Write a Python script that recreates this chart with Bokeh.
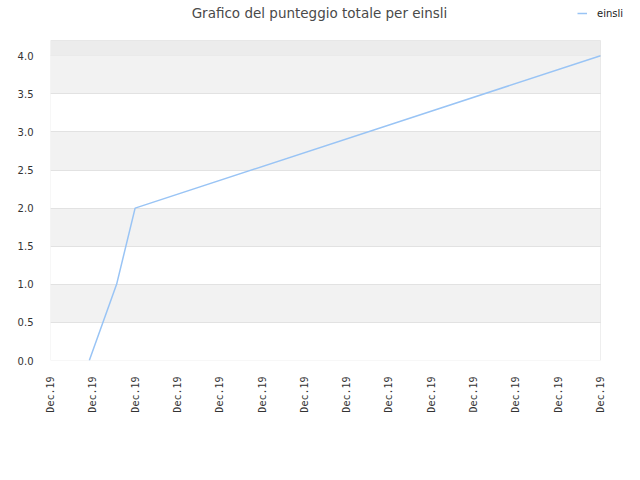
import math
from datetime import datetime
from bokeh.plotting import figure
from bokeh.models import (FixedTicker, DatetimeTickFormatter, Range1d, BoxAnnotation,
                          Legend, LegendItem, PrintfTickFormatter, ColumnDataSource,
                          Label, Grid)
from bokeh.embed import file_html
from bokeh.resources import INLINE

title_text = "Grafico del punteggio totale per einsli"
series_name = "einsli"
dates = [datetime(2019, 12, 2, 20, 0), datetime(2019, 12, 4, 3, 0),
         datetime(2019, 12, 5, 0, 0), datetime(2019, 12, 27, 0, 0)]
scores = [0, 1, 2, 4]
tick_dates = [datetime(2019, 12, 1 + 2 * i) for i in range(14)]
y_ticks = [0.0, 0.5, 1.0, 1.5, 2.0, 2.5, 3.0, 3.5, 4.0]
y_max = 4.2

epoch = datetime(1970, 1, 1)
def ms(d):
    return (d - epoch).total_seconds() * 1000.0

# layout (pixels): plot box spans x 50..600, y 40..360 inside a 624x464 figure;
# the frame is extended to the figure's top and right edge so the title and
# legend can sit inside it.
W, H = 624, 464
box_l, box_r, box_t, box_b = 50, 600, 40, 360
x0, x1 = ms(tick_dates[0]), ms(tick_dates[-1])
x_end = x0 + (x1 - x0) * (W - box_l) / (box_r - box_l)
y_end = y_max * box_b / (box_b - box_t)

p = figure(width=W, height=H, output_backend="svg", toolbar_location=None,
           title=None, x_axis_type="datetime",
           x_range=Range1d(x0, x_end), y_range=Range1d(0, y_end),
           min_border_left=box_l, min_border_right=0, min_border_top=0,
           min_border_bottom=H - box_b)

p.background_fill_color = "white"
p.border_fill_color = "white"
p.outline_line_color = None

p.xgrid.grid_line_color = None
grid = p.ygrid[0]
if "cross_bounds" in Grid.properties():
    grid.cross_bounds = (x0, x1)
    grid.grid_line_color = "#e2e2e2"
    grid.band_fill_color = "#f2f2f2"
    grid.band_fill_alpha = 1.0
else:
    grid.visible = False
    for i in range(len(y_ticks) - 1):
        if i % 2 == 1:
            p.add_layout(BoxAnnotation(left=x0, right=x1, bottom=y_ticks[i],
                                       top=y_ticks[i + 1], fill_color="#f2f2f2",
                                       fill_alpha=1, line_color=None, level="underlay"))
    for t in y_ticks[1:]:
        p.add_layout(BoxAnnotation(left=x0, right=x1, bottom=t, top=t,
                                   fill_alpha=0, line_color="#e2e2e2",
                                   level="underlay"))

p.add_layout(BoxAnnotation(left=x0, right=x1, bottom=y_ticks[-1], top=y_max,
                           fill_color="#ececec", fill_alpha=1, line_color=None,
                           level="underlay"))

src = ColumnDataSource(data=dict(x=dates, y=scores))
r = p.line("x", "y", source=src, line_color="#99c4f5", line_width=1.5)

# plot-area border
p.add_layout(BoxAnnotation(left=x0, right=x1, bottom=0, top=y_max,
                           fill_alpha=0, line_color="#c8c8c8", line_width=1,
                           level="annotation"))

p.xaxis.ticker = FixedTicker(ticks=[ms(d) for d in tick_dates])
p.xaxis.formatter = DatetimeTickFormatter(
    milliseconds="%b.%y", seconds="%b.%y", minsec="%b.%y", minutes="%b.%y",
    hourmin="%b.%y", hours="%b.%y", days="%b.%y", months="%b.%y", years="%b.%y")
p.xaxis.major_label_orientation = math.pi / 2
p.xaxis.major_label_text_font = "DejaVu Sans Mono"
p.xaxis.major_label_text_font_size = "10px"
p.xaxis.major_label_text_color = "#333333"
p.xaxis.major_label_standoff = 10

p.yaxis.ticker = FixedTicker(ticks=y_ticks)
p.yaxis.formatter = PrintfTickFormatter(format="%.1f")
p.yaxis.major_label_text_font = "DejaVu Sans"
p.yaxis.major_label_text_font_size = "10px"
p.yaxis.major_label_text_color = "#333333"
p.yaxis.major_label_standoff = 11

for ax in (p.xaxis, p.yaxis):
    ax.axis_line_color = None
    ax.major_tick_line_color = None
    ax.minor_tick_line_color = None

title = Label(x=319 - box_l, y=box_b - 12, x_units="screen", y_units="screen",
              text=title_text, text_font="DejaVu Sans", text_font_size="13.5px",
              text_color="#4a4a4a", text_align="center", text_baseline="middle")
p.add_layout(title)

legend = Legend(items=[LegendItem(label=series_name, renderers=[r])],
                location=(577 - box_l, box_b - 20), padding=0, margin=0, spacing=0,
                glyph_width=10, glyph_height=14, label_height=14,
                label_standoff=10, border_line_color=None,
                background_fill_alpha=0,
                label_text_font="DejaVu Sans", label_text_font_size="10px",
                label_text_color="#1a1a1a")
p.add_layout(legend, "center")

open("out.html", "w").write(file_html(p, INLINE))
